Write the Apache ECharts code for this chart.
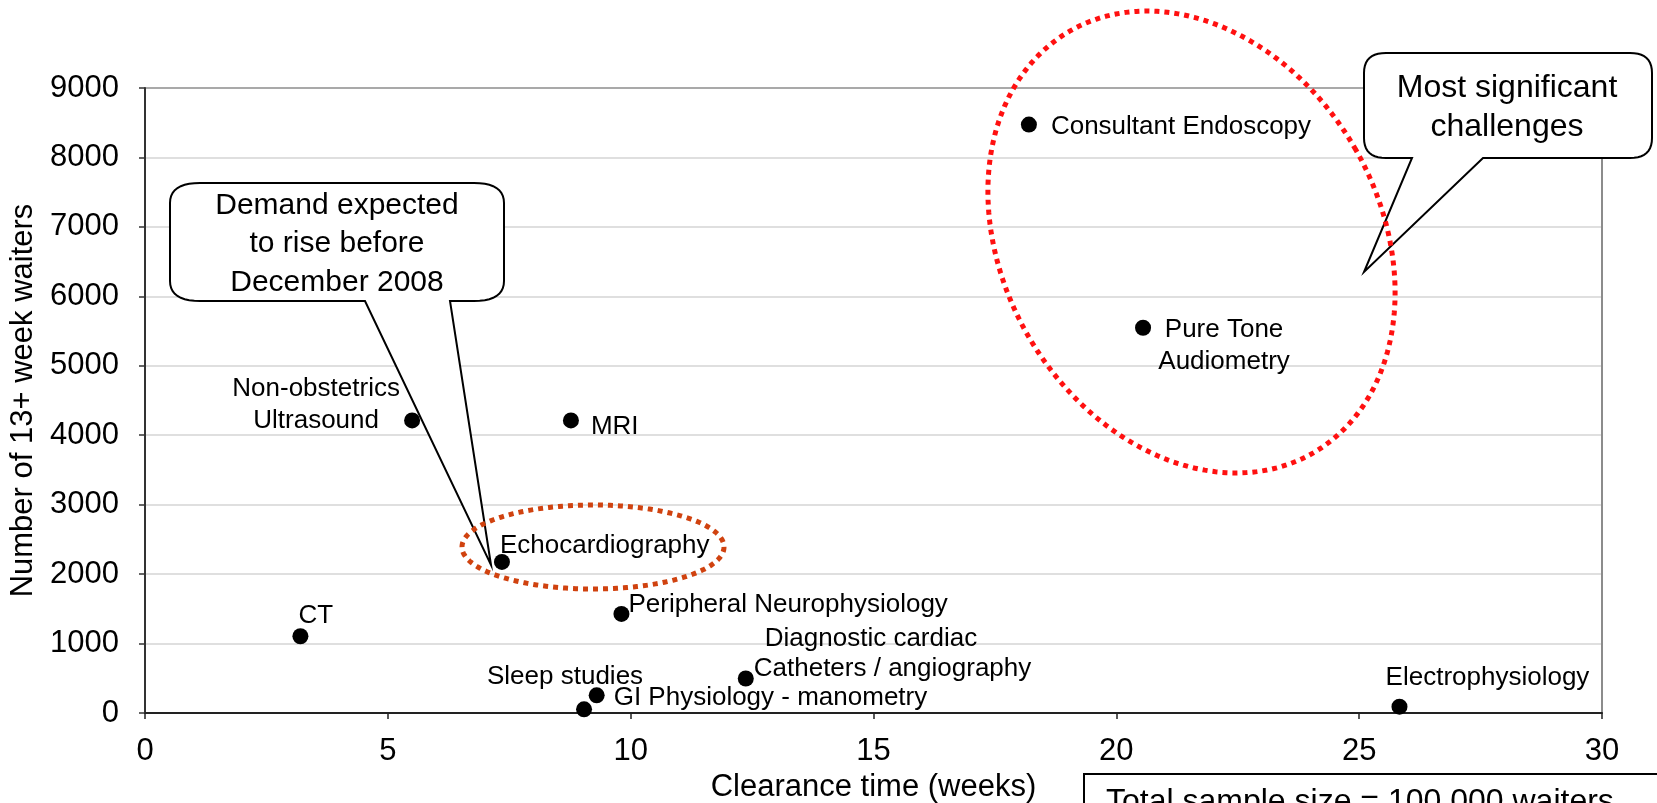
<!DOCTYPE html>
<html>
<head>
<meta charset="utf-8">
<script src="https://cdn.jsdelivr.net/npm/echarts@6/dist/echarts.min.js"></script>
<style>
  html, body { margin: 0; padding: 0; background: #fff; }
  #chart { width: 1657px; height: 803px; }
</style>
</head>
<body>
<div id="chart"></div>
<script>
// ---------- data ----------
const serviceNames = [
  'CT', 'Non-obstetrics Ultrasound', 'MRI', 'Echocardiography',
  'Peripheral Neurophysiology', 'Sleep studies', 'GI Physiology - manometry',
  'Diagnostic cardiac Catheters / angiography', 'Electrophysiology',
  'Consultant Endoscopy', 'Pure Tone Audiometry'
];
const pointLabels = [
  'CT', 'Non-obstetrics\nUltrasound', 'MRI', 'Echocardiography',
  'Peripheral Neurophysiology', 'Sleep studies', 'GI Physiology - manometry',
  '{a|Diagnostic cardiac}\n{b|Catheters / angiography}', 'Electrophysiology',
  'Consultant Endoscopy', 'Pure Tone\nAudiometry'
];
const clearanceWeeks   = [3.2, 5.5, 8.77, 7.35, 9.81, 9.04, 9.30, 12.37, 25.83, 18.20, 20.55];
const waitersOver13Wks = [1105, 4213, 4213, 2175, 1427, 53, 254, 497, 91, 8473, 5548];
const xTickValues = [0, 5, 10, 15, 20, 25, 30];
const yTickValues = [0, 1000, 2000, 3000, 4000, 5000, 6000, 7000, 8000, 9000];

// ---------- label placement (style, not data) ----------
const labelPlacement = [
  { dx: -2,  dy: -20, align: 'left' },
  { dx: -96, dy: -16, align: 'center' },
  { dx: 20,  dy: 6,   align: 'left' },
  { dx: -2,  dy: -16, align: 'left' },
  { dx: 7,   dy: -9,  align: 'left' },
  { dx: -19, dy: -32, align: 'center' },
  { dx: 17,  dy: 2,   align: 'left' },
  { dx: 8,   dy: -25, align: 'left' },
  { dx: 88,  dy: -29, align: 'center' },
  { dx: 22,  dy: 2,   align: 'left' },
  { dx: 81,  dy: 18,  align: 'center' }
];

const FONT = "'Liberation Sans', Arial, sans-serif";

const scatterData = clearanceWeeks.map((x, i) => ({
  name: serviceNames[i],
  value: [x, waitersOver13Wks[i]],
  label: {
    show: true,
    position: 'inside',
    formatter: pointLabels[i],
    offset: [labelPlacement[i].dx, labelPlacement[i].dy],
    align: labelPlacement[i].align,
    verticalAlign: 'middle',
    fontSize: 26,
    lineHeight: i === 7 ? 30 : 32,
    fontFamily: FONT,
    color: '#000',
    opacity: 1,
    rich: {
      a: { fontSize: 26, fontFamily: FONT, color: '#000', lineHeight: 30, padding: [0, 0, 0, 11] },
      b: { fontSize: 26, fontFamily: FONT, color: '#000', lineHeight: 30 }
    }
  }
}));

const gridLineColorsY = yTickValues.map((v, i) => i === yTickValues.length - 1 ? '#8c8c8c' : '#d4d4d4');
const gridLineColorsX = xTickValues.map((v, i) => i === xTickValues.length - 1 ? '#8c8c8c' : 'rgba(0,0,0,0)');

const chart = echarts.init(document.getElementById('chart'), null, { renderer: 'canvas' });

// ---------- annotation geometry helpers ----------
function quadPts(p0, p1, p2, n) {
  const out = [];
  for (let i = 1; i <= n; i++) {
    const t = i / n, u = 1 - t;
    out.push([u * u * p0[0] + 2 * u * t * p1[0] + t * t * p2[0],
              u * u * p0[1] + 2 * u * t * p1[1] + t * t * p2[1]]);
  }
  return out;
}
function calloutPoints(L, T, R, B, rx, ry, tailA, tailB, tipX, tipY) {
  let pts = [[L + rx, T], [R - rx, T]];
  pts = pts.concat(quadPts([R - rx, T], [R, T], [R, T + ry], 10));
  pts.push([R, B - ry]);
  pts = pts.concat(quadPts([R, B - ry], [R, B], [R - rx, B], 10));
  pts.push([tailB, B], [tipX, tipY], [tailA, B], [L + rx, B]);
  pts = pts.concat(quadPts([L + rx, B], [L, B], [L, B - ry], 10));
  pts.push([L, T + ry]);
  pts = pts.concat(quadPts([L, T + ry], [L, T], [L + rx, T], 10));
  return pts;
}
function ellipsePoints(cx, cy, rx, ry, rot) {
  const pts = [];
  const c = Math.cos(rot), s = Math.sin(rot);
  for (let i = 0; i <= 240; i++) {
    const a = i / 240 * Math.PI * 2;
    const ex = rx * Math.cos(a), ey = ry * Math.sin(a);
    pts.push([cx + ex * c + ey * s, cy - ex * s + ey * c]);
  }
  return pts;
}

const option = {
  animation: false,
  backgroundColor: '#fff',
  grid: { left: 145, right: 55, top: 88, bottom: 90, outerBoundsMode: 'none', containLabel: false },
  xAxis: {
    type: 'value',
    min: xTickValues[0],
    max: xTickValues[xTickValues.length - 1],
    interval: xTickValues[1] - xTickValues[0],
    name: 'Clearance time (weeks)',
    nameLocation: 'middle',
    nameGap: 58,
    nameTextStyle: { fontSize: 31, fontFamily: FONT, color: '#000' },
    axisLine: { show: true, onZero: false, lineStyle: { color: '#222', width: 2 } },
    axisTick: { show: true, length: 6, lineStyle: { color: '#222', width: 1.5 } },
    axisLabel: { fontSize: 31, fontFamily: FONT, color: '#000', margin: 23, formatter: v => String(v) },
    splitLine: { show: true, lineStyle: { color: gridLineColorsX, width: 2 } }
  },
  yAxis: {
    type: 'value',
    min: yTickValues[0],
    max: yTickValues[yTickValues.length - 1],
    interval: yTickValues[1] - yTickValues[0],
    name: 'Number of 13+ week waiters',
    nameLocation: 'middle',
    nameGap: 92,
    nameTextStyle: { fontSize: 31, fontFamily: FONT, color: '#000' },
    axisLine: { show: true, onZero: false, lineStyle: { color: '#333', width: 2 } },
    axisTick: { show: true, length: 6, lineStyle: { color: '#333', width: 1.5 } },
    axisLabel: { fontSize: 31, fontFamily: FONT, color: '#000', margin: 26, formatter: v => String(v) },
    splitLine: { show: true, lineStyle: { color: gridLineColorsY, width: 1.5 } }
  },
  series: [{
    type: 'scatter',
    symbol: 'circle',
    symbolSize: 16,
    itemStyle: { color: '#000', opacity: 1 },
    data: scatterData,
    z: 5
  }],
  graphic: [
    // Callout 1
    {
      type: 'polygon', z: 10,
      shape: { points: calloutPoints(170, 183, 504, 301, 30, 20, 365, 450, 491, 565) },
      style: { fill: '#fff', stroke: '#000', lineWidth: 2 }
    },
    {
      type: 'text', z: 11, x: 337, y: 244,
      style: {
        text: 'Demand expected\nto rise before\nDecember 2008',
        font: '30px ' + FONT, fill: '#000', align: 'center', verticalAlign: 'middle', lineHeight: 38.5
      }
    },
    // Callout 2
    {
      type: 'polygon', z: 10,
      shape: { points: calloutPoints(1364, 53, 1652, 158, 22, 20, 1412, 1483, 1364, 272) },
      style: { fill: '#fff', stroke: '#000', lineWidth: 2 }
    },
    {
      type: 'text', z: 11, x: 1507, y: 108,
      style: {
        text: 'Most significant\nchallenges',
        font: '32px ' + FONT, fill: '#000', align: 'center', verticalAlign: 'middle', lineHeight: 39
      }
    },
    // Orange dotted ellipse around Echocardiography
    {
      type: 'polyline', z: 20,
      shape: { points: ellipsePoints(593, 547, 131, 42, 0) },
      style: { fill: null, stroke: '#d0420f', lineWidth: 5, lineDash: [5, 5] }
    },
    // Red dotted ellipse (tilted)
    {
      type: 'polyline', z: 20,
      shape: { points: ellipsePoints(1191.5, 242, 188.4, 243.5, 0.524) },
      style: { fill: null, stroke: '#ff1010', lineWidth: 5, lineDash: [5, 5] }
    },
    // Sample size text box
    {
      type: 'rect', z: 30,
      shape: { x: 1084, y: 774, width: 620, height: 100 },
      style: { fill: '#fff', stroke: '#000', lineWidth: 2 }
    },
    {
      type: 'text', z: 31, x: 1106, y: 786,
      style: {
        text: 'Total sample size = 100,000 waiters',
        font: '32px ' + FONT, fill: '#000', align: 'left', verticalAlign: 'top'
      }
    }
  ]
};

chart.setOption(option);
</script>
</body>
</html>
